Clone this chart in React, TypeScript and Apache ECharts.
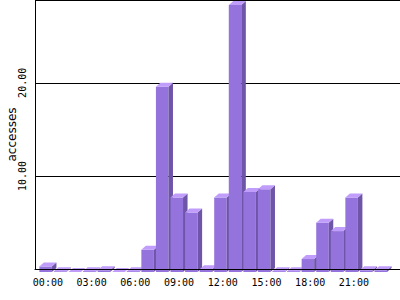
import React, { useEffect, useRef } from "react";
import * as echarts from "echarts";

const hours = [
  "00:00", "01:00", "02:00", "03:00", "04:00", "05:00", "06:00", "07:00",
  "08:00", "09:00", "10:00", "11:00", "12:00", "13:00", "14:00", "15:00",
  "16:00", "17:00", "18:00", "19:00", "20:00", "21:00", "22:00", "23:00",
];
const accesses = [
  0.7, 0.2, 0.1, 0.2, 0.3, 0.1, 0.2, 2.5,
  20.0, 8.1, 6.5, 0.4, 8.1, 28.8, 8.7, 9.0,
  0.2, 0.2, 1.5, 5.4, 4.5, 8.1, 0.3, 0.3,
];
const yTicks = [10, 20];

const FRONT = "#9473dc";
const SIDE = "#6f55a7";
const TOP = "#c09dfa";

export default function App() {
  const ref = useRef<HTMLDivElement>(null);
  useEffect(() => {
    if (!ref.current) return;
    const chart = echarts.init(ref.current, null, { renderer: "svg" });
    const mono = "DejaVu Sans Mono";
    chart.setOption({
      animation: false,
      backgroundColor: "#ffffff",
      grid: [
        { left: 35, right: 0, top: 0, bottom: 31, outerBoundsMode: "none", containLabel: false },
        { left: 40.6, right: 9.7, top: 0, bottom: 31, outerBoundsMode: "none", containLabel: false },
      ],
      xAxis: [
        {
          gridIndex: 0,
          type: "value",
          min: 0,
          max: 1,
          z: 5,
          axisLine: { show: true, lineStyle: { color: "#000", width: 1 } },
          axisTick: { show: false },
          axisLabel: { show: false },
          splitLine: { show: false },
        },
        {
          gridIndex: 1,
          type: "category",
          data: hours,
          boundaryGap: true,
          axisLine: { show: false },
          axisTick: { show: false },
          axisLabel: {
            interval: 2,
            fontFamily: mono,
            fontSize: 10,
            color: "#000",
            margin: 8,
          },
        },
      ],
      yAxis: [
        {
          gridIndex: 0,
          type: "value",
          min: 0,
          max: 28.9,
          interval: 10,
          name: "accesses",
          nameLocation: "middle",
          nameRotate: 90,
          nameGap: 17,
          nameMoveOverlap: false,
          nameTextStyle: { fontFamily: "DejaVu Sans", fontSize: 12, color: "#000" },
          axisLine: { show: true, lineStyle: { color: "#000", width: 1 } },
          axisTick: { show: false },
          axisLabel: {
            rotate: 90,
            fontFamily: mono,
            fontSize: 10,
            color: "#000",
            margin: 8,
            formatter: (v: number) => (yTicks.includes(v) ? v.toFixed(2) : ""),
          },
          splitLine: { show: true, lineStyle: { color: "#000", width: 1 } },
        },
        {
          gridIndex: 1,
          type: "value",
          min: 0,
          max: 28.9,
          show: false,
        },
      ],
      series: [
        {
          type: "custom",
          xAxisIndex: 1,
          yAxisIndex: 1,
          z: 2,
          data: accesses.map((v, i) => [i, v]),
          encode: { x: 0, y: 1 },
          renderItem: (params: any, api: any) => {
            const idx = api.value(0);
            const v = api.value(1);
            const top = api.coord([idx, v]);
            const base = api.coord([idx, 0]);
            const bw = api.size([1, 0])[0];
            const fw = bw * 0.86;
            const dx = bw * 0.31;
            const dy = 4;
            const xl = top[0] - (fw + dx) / 2;
            const yb = base[1] + 3;
            const yt = top[1];
            return {
              type: "group",
              children: [
                {
                  type: "rect",
                  shape: { x: xl, y: yt + dy, width: fw, height: Math.max(0, yb - yt - dy) },
                  style: { fill: FRONT },
                },
                {
                  type: "polygon",
                  shape: {
                    points: [
                      [xl + fw, yt + dy],
                      [xl + fw + dx, yt],
                      [xl + fw + dx, yb - dy],
                      [xl + fw, yb],
                    ],
                  },
                  style: { fill: SIDE },
                },
                {
                  type: "polygon",
                  shape: {
                    points: [
                      [xl, yt + dy],
                      [xl + dx, yt],
                      [xl + fw + dx, yt],
                      [xl + fw, yt + dy],
                    ],
                  },
                  style: { fill: TOP },
                },
              ],
            };
          },
        },
      ],
    });
    return () => chart.dispose();
  }, []);
  return (
    <div
      ref={ref}
      style={{ position: "absolute", left: 0, top: 0, width: 400, height: 300 }}
    />
  );
}
